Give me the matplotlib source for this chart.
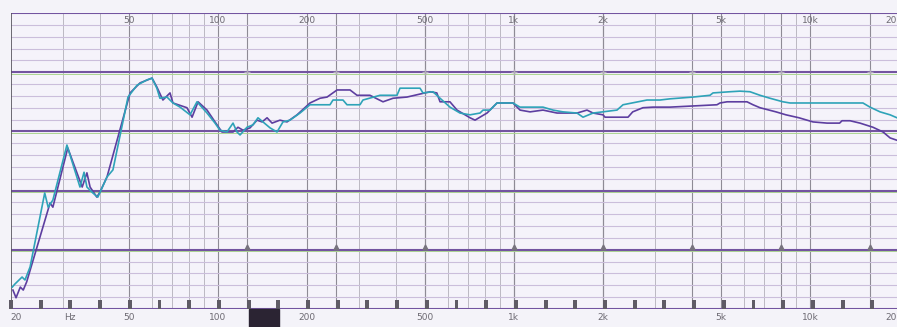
import numpy as np
import matplotlib.pyplot as plt
from matplotlib.patches import Rectangle
import matplotlib.transforms as mtransforms

# Frequency response readings (Hz, dB)
teal_freq = [20.2, 20.6, 21.8, 22.3, 23.2, 26.0, 26.7, 27.7, 30.9, 34.2, 35.3, 36.1,
             37.8, 39.3, 42.2, 44.2, 49.7, 53.3, 57.6, 59.9, 62.2, 63.7, 67.3, 70.5,
             74.5, 80.5, 85.0, 91.9, 97.8, 101.6, 107.3, 112.5, 116.0, 118.8, 125.4,
             131.4, 136.6, 142.0, 150.0, 158.4, 165.9, 175.2, 189.4, 204.7, 239.2,
             244.8, 264.6, 273.0, 302.0, 309.1, 352.9, 402.8, 412.3, 481.7, 493.0,
             533.0, 563.0, 608.3, 657.7, 710.9, 768.4, 786.5, 830.4, 876.9, 992.7,
             1048.6, 1254, 1356, 1465, 1634, 1712, 1851, 2230, 2337, 2816, 3116,
             3367, 4028, 4597, 4706, 5372, 5805, 6275, 6783, 7331, 8110, 8565,
             15110, 15960, 17260, 18660, 19690]
teal_db = [53.7, 54.2, 55.4, 54.9, 57.1, 69.6, 67.2, 68.4, 77.7, 70.6, 73.1, 70.6,
           69.6, 68.9, 72.3, 73.5, 85.8, 87.8, 88.7, 89.0, 87.3, 85.6, 85.8, 84.8,
           84.1, 82.8, 85.0, 83.1, 81.4, 80.2, 79.9, 81.4, 79.9, 79.4, 80.7,
           81.1, 82.3, 81.6, 80.6, 79.9, 81.6, 81.9, 83.1, 84.5, 84.5,
           85.3, 85.3, 84.5, 84.5, 85.3, 86.1, 86.1, 87.3, 87.3, 86.5,
           86.7, 85.6, 84.1, 83.1, 82.8, 83.1, 83.6, 83.6, 84.8, 84.8,
           84.1, 84.1, 83.6, 83.3, 83.1, 82.4, 83.1, 83.6, 84.5, 85.3, 85.3,
           85.5, 85.8, 86.1, 86.5, 86.7, 86.8, 86.7, 86.1, 85.6, 85.0, 84.8,
           84.8, 84.1, 83.3, 82.8, 82.3]

purple_freq = [20.3, 20.8, 21.5, 22.0, 22.6, 27.1, 27.7, 31.1, 34.8, 36.1, 37.0,
               39.0, 40.0, 42.2, 50.5, 54.6, 59.9, 62.2, 65.2, 68.9, 70.5, 78.6,
               81.8, 85.7, 91.9, 97.8, 103.2, 112.5, 116.9, 121.6, 128.4, 135.6,
               141.0, 146.6, 152.4, 162.1, 171.2, 185.1, 204.7, 221.3, 233.8, 252.7,
               279.5, 295.1, 326.4, 361.2, 390.5, 435.3, 520.8, 549, 563, 608, 642.6,
               710.9, 739.1, 768, 811.3, 877, 993, 1049, 1134, 1254, 1399, 1634, 1766,
               1851, 2000, 2032, 2430, 2520, 2729, 2951, 3367, 4854, 4969, 5249,
               6131, 6424, 6783, 7681, 8300, 9187, 10245, 11428, 12600, 12839,
               13664, 14766, 16333, 17666, 18660, 19690]
purple_db = [53.2, 51.9, 53.7, 53.2, 54.6, 67.9, 67.2, 77.2, 70.6, 73.0, 70.6,
             68.9, 69.8, 72.3, 86.5, 88.2, 89.0, 87.5, 85.3, 86.5, 84.8, 84.0,
             82.4, 85.0, 83.6, 81.6, 79.9, 79.9, 80.7, 80.2, 80.6, 81.9,
             81.6, 82.3, 81.4, 81.9, 81.6, 82.8, 84.8, 85.6, 85.8, 87.0,
             87.0, 86.1, 86.1, 85.0, 85.6, 85.8, 86.7, 86.5, 85.0, 85.0, 83.6,
             82.3, 81.9, 82.4, 83.1, 84.8, 84.8, 83.6, 83.3, 83.6, 83.1, 83.1, 83.6,
             83.1, 82.8, 82.4, 82.4, 83.3, 84.0, 84.1, 84.1, 84.5, 84.8, 85.0,
             85.0, 84.5, 84.0, 83.3, 82.8, 82.3, 81.6, 81.4, 81.4, 81.8,
             81.8, 81.4, 80.7, 79.9, 78.9, 78.5]

top_ticks = [50, 100, 200, 500, 1000, 2000, 5000, 10000]
top_labels = ['50', '100', '200', '500', '1k', '2k', '5k', '10k']
bottom_ticks = [50, 100, 200, 500, 1000, 2000, 5000, 10000]
bottom_labels = ['50', '100', '200', '500', '1k', '2k', '5k', '10k']
octaves = [125, 250, 500, 1000, 2000, 4000, 8000, 16000]

fig = plt.figure(figsize=(8.97, 3.27), dpi=100)
fig.patch.set_facecolor('#f4f3f9')
ax = fig.add_axes([11 / 897, 18 / 327, 888 / 897, 296 / 327])
ax.set_facecolor('#f5f3fa')
ax.set_xscale('log')
ax.set_xlim(20, 20000)
ax.set_ylim(50, 100)

# grid
grid_f = [m * 10 ** e for e in range(1, 5) for m in range(1, 10)]
for f in grid_f:
    if 20 < f < 20000:
        ax.axvline(f, color='#b3b0b9', lw=0.6, zorder=1)
for f in octaves + top_ticks:
    ax.axvline(f, color='#8e8b95', lw=0.8, zorder=1)
for y in np.arange(50, 101, 2):
    if y % 10:
        ax.axhline(y, color='#cbbedb', lw=0.8, zorder=1)
for y in range(50, 101, 10):
    if y < 100:
        ax.axhline(y - 0.25, color='#acd691', lw=0.7, zorder=2)
    ax.axhline(y, color='#7354a0', lw=1.5, zorder=2)

# markers on reference lines
ax.plot(octaves, [60.4] * len(octaves), ls='none', marker='^', ms=3.5,
        color='#77737e', zorder=3)
ax.plot(octaves, [90] * len(octaves), ls='none', marker='+', ms=4,
        color='#b0aab8', zorder=3)

# 1/3 octave marks along the bottom
third = [20 * 2 ** (k / 3) for k in range(31)]
ax.bar(third, 1.5, bottom=50, width=[f * 0.03 for f in third],
       color='#5f5b66', zorder=3, clip_on=False)

# curves
ax.plot(teal_freq, teal_db, color='#2ea3b8', lw=1.2, zorder=5)
ax.plot(purple_freq, purple_db, color='#5d3ea0', lw=1.2, zorder=4)

# labels
for f, s in zip(top_ticks, top_labels):
    ax.text(f, 99.5, s, ha='center', va='top', fontsize=6.5, color='#6d6a73')
ax.text(1.0, 99.5, '20', ha='right', va='top', fontsize=6.5, color='#6d6a73',
        transform=mtransforms.blended_transform_factory(fig.transFigure, ax.transData))
for f, s in zip(bottom_ticks, bottom_labels):
    ax.text(f, 48.6, s, ha='center', va='center',
            fontsize=6.5, color='#6d6a73', clip_on=False)
ax.text(20.8, 48.6, '20', ha='center', va='center', fontsize=6.5,
        color='#6d6a73', clip_on=False)
ax.text(1.0, 48.6, '20', ha='right', va='center', fontsize=6.5, color='#6d6a73',
        transform=mtransforms.blended_transform_factory(fig.transFigure, ax.transData))
ax.text(31.5, 48.6, 'Hz', ha='center', va='center', fontsize=6.5,
        color='#6d6a73', clip_on=False)

trans = mtransforms.blended_transform_factory(ax.transData, ax.transAxes)
ax.add_patch(Rectangle((127, -0.07), 34, 0.07, transform=trans,
                       color='#2b2433', clip_on=False, zorder=6))

ax.set_xticks([])
ax.set_yticks([])
ax.minorticks_off()
for s in ax.spines.values():
    s.set_visible(False)
ax.axvline(20, color='#55525b', lw=1.2, zorder=2)

fig.savefig('out.png', dpi=100, facecolor=fig.get_facecolor())
